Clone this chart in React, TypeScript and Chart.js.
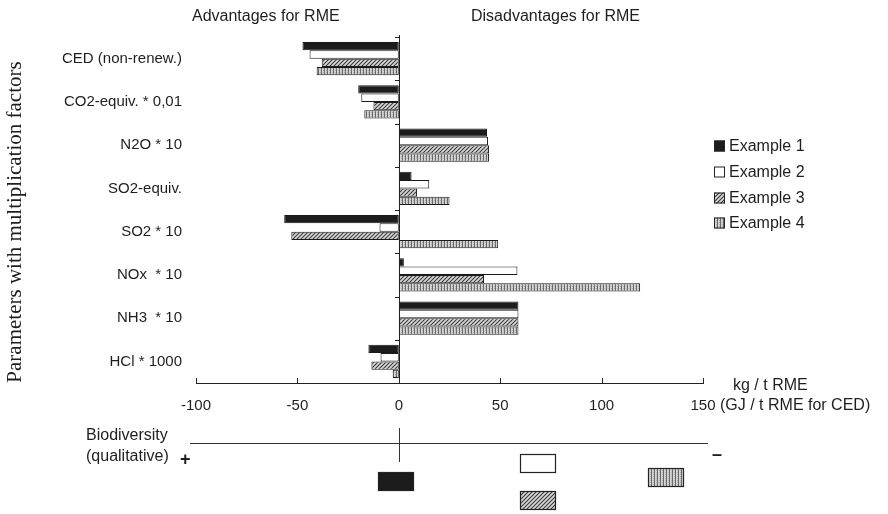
import React, { useEffect, useRef } from "react";
import { Chart, registerables } from "chart.js";

Chart.register(...registerables);

const categories = [
  "CED (non-renew.)",
  "CO2-equiv. * 0,01",
  "N2O * 10",
  "SO2-equiv.",
  "SO2 * 10",
  "NOx  * 10",
  "NH3  * 10",
  "HCl * 1000",
];
const seriesNames = ["Example 1", "Example 2", "Example 3", "Example 4"];
const example1 = [-47.5, -20, 43.5, 6.3, -56.5, 2.5, 59, -15];
const example2 = [-44, -18.5, 44, 15, -9.5, 58.5, 59, -9];
const example3 = [-38, -12.5, 44.5, 9, -53, 42, 59, -13.5];
const example4 = [-40.5, -17, 44.5, 25, 49, 119, 59, -3];
const xTickValues = [-100, -50, 0, 50, 100, 150];
// qualitative biodiversity position of each example on the same scale
const biodiversityPos = [-1.5, 68.5, 68.5, 132];

const SANS = "'Liberation Sans', Arial, sans-serif";
const SERIF = "'Liberation Serif', 'Times New Roman', serif";
const TXT = "#1e1e1e";

function makePattern(kind: string): CanvasPattern | string {
  const c = document.createElement("canvas");
  const g = c.getContext("2d");
  if (!g) return "#999";
  if (kind === "hatch") {
    c.width = 4;
    c.height = 4;
    g.fillStyle = "#d8d8d8";
    g.fillRect(0, 0, 4, 4);
    g.strokeStyle = "#3a3a3a";
    g.lineWidth = 1.1;
    g.beginPath();
    g.moveTo(-1, 5);
    g.lineTo(5, -1);
    g.moveTo(-1, 1);
    g.lineTo(1, -1);
    g.moveTo(3, 5);
    g.lineTo(5, 3);
    g.stroke();
  } else {
    c.width = 3;
    c.height = 2;
    g.fillStyle = "#d4d4d4";
    g.fillRect(0, 0, 3, 2);
    g.fillStyle = "#6a6a6a";
    g.fillRect(0, 0, 1, 2);
    g.fillStyle = "#b0b0b0";
    g.fillRect(2, 0, 1, 1);
  }
  return g.createPattern(c, "repeat") as CanvasPattern;
}

export default function App() {
  const ref = useRef<HTMLCanvasElement | null>(null);

  useEffect(() => {
    if (!ref.current) return;
    const fills: (string | CanvasPattern)[] = [
      "#1c1c1c",
      "#ffffff",
      makePattern("hatch"),
      makePattern("stripe"),
    ];
    const values = [example1, example2, example3, example4];

    const annotations = {
      id: "annotations",
      afterDatasetsDraw(chart: any) {
        const { ctx, chartArea } = chart;
        const x = chart.scales.x;
        const y = chart.scales.y;
        const x0 = x.getPixelForValue(0);
        ctx.save();
        ctx.strokeStyle = "#222";
        ctx.lineWidth = 1;
        // zero line with category ticks
        ctx.beginPath();
        ctx.moveTo(Math.round(x0) + 0.5, chartArea.top - 2);
        ctx.lineTo(Math.round(x0) + 0.5, chartArea.bottom);
        const n = categories.length;
        for (let i = 0; i <= n; i++) {
          const yy =
            i < n
              ? y.getPixelForValue(i) - (y.getPixelForValue(1) - y.getPixelForValue(0)) / 2
              : chartArea.bottom;
          ctx.moveTo(Math.round(x0) - 4, Math.round(yy) + 0.5);
          ctx.lineTo(Math.round(x0) + 1, Math.round(yy) + 0.5);
        }
        ctx.stroke();
        // upward x ticks
        ctx.beginPath();
        for (const v of xTickValues) {
          const px = Math.round(x.getPixelForValue(v)) + 0.5;
          ctx.moveTo(px, chartArea.bottom);
          ctx.lineTo(px, chartArea.bottom - 5);
        }
        ctx.stroke();
        ctx.restore();
      },
      afterDraw(chart: any) {
        const { ctx } = chart;
        const x = chart.scales.x;
        ctx.save();
        ctx.fillStyle = TXT;
        ctx.textBaseline = "middle";
        ctx.textAlign = "left";
        ctx.font = `16px ${SANS}`;
        ctx.fillText("Advantages for RME", 192, 17);
        ctx.fillText("Disadvantages for RME", 471, 17);
        ctx.fillText("kg / t RME", 733, 386);
        ctx.fillText("(GJ / t RME for CED)", 720, 406);

        // y title
        ctx.save();
        ctx.translate(15, 222);
        ctx.rotate(-Math.PI / 2);
        ctx.textAlign = "center";
        ctx.font = `21px ${SERIF}`;
        ctx.fillText("Parameters with multiplication factors", 0, 0);
        ctx.restore();

        // legend
        const rows = [146, 172, 198, 223];
        ctx.font = `16px ${SANS}`;
        seriesNames.forEach((name, i) => {
          ctx.fillStyle = fills[i] as any;
          ctx.fillRect(714, rows[i] - 5.5, 11, 11);
          ctx.strokeStyle = "#222";
          ctx.lineWidth = 1;
          ctx.strokeRect(714.5, rows[i] - 5, 10, 10);
          ctx.fillStyle = TXT;
          ctx.fillText(name, 729, rows[i] + 1);
        });

        // biodiversity section
        ctx.fillStyle = TXT;
        ctx.font = `16px ${SANS}`;
        ctx.fillText("Biodiversity", 86, 436);
        ctx.fillText("(qualitative)", 86, 457);
        ctx.font = `bold 18px ${SANS}`;
        ctx.fillText("+", 180, 460);
        ctx.fillText("\u2013", 712, 455);

        const xl = x.getPixelForValue(-100) - 6;
        const xr = x.getPixelForValue(150) + 5;
        const x0 = Math.round(x.getPixelForValue(0)) + 0.5;
        ctx.strokeStyle = "#333";
        ctx.lineWidth = 1;
        ctx.beginPath();
        ctx.moveTo(xl, 443.5);
        ctx.lineTo(xr, 443.5);
        ctx.moveTo(x0, 428);
        ctx.lineTo(x0, 462);
        ctx.stroke();

        const tops = [472, 454, 491, 468];
        biodiversityPos.forEach((v, i) => {
          const cx = x.getPixelForValue(v);
          const left = Math.round(cx - 18);
          ctx.fillStyle = fills[i] as any;
          ctx.fillRect(left, tops[i], 36, 19);
          ctx.strokeStyle = "#222";
          ctx.lineWidth = 1.2;
          ctx.strokeRect(left + 0.5, tops[i] + 0.5, 35, 18);
        });
        ctx.restore();
      },
    };

    const chart = new Chart(ref.current, {
      type: "bar",
      data: {
        labels: categories,
        datasets: seriesNames.map((name, i) => ({
          label: name,
          data: values[i],
          backgroundColor: fills[i] as any,
          borderColor: "#1a1a1a",
          borderWidth: 1,
          borderSkipped: false,
          categoryPercentage: 0.77,
          barPercentage: 1,
        })),
      },
      options: {
        indexAxis: "y",
        animation: false,
        responsive: false,
        maintainAspectRatio: false,
        layout: { padding: { top: 37, right: 185, bottom: 0, left: 0 } },
        plugins: {
          legend: { display: false },
          tooltip: { enabled: false },
        },
        scales: {
          x: {
            type: "linear",
            min: -100,
            max: 150,
            afterBuildTicks(scale: any) {
              scale.ticks = xTickValues.map((v) => ({ value: v }));
            },
            afterFit(scale: any) {
              scale.height = 131;
            },
            grid: { display: false, drawTicks: false },
            border: { display: true, color: "#222", width: 1 },
            ticks: {
              padding: 14,
              color: TXT,
              font: { family: SANS, size: 15 },
              maxRotation: 0,
            },
          },
          y: {
            type: "category",
            afterFit(scale: any) {
              scale.width = 196;
            },
            grid: { display: false, drawTicks: false },
            border: { display: false },
            ticks: {
              padding: 14,
              color: TXT,
              font: { family: SANS, size: 15 },
            },
          },
        },
      },
      plugins: [annotations],
    } as any);

    return () => chart.destroy();
  }, []);

  return (
    <div style={{ position: "fixed", left: 0, top: 0, width: 888, height: 514, background: "#fff" }}>
      <canvas ref={ref} width={888} height={514} style={{ width: 888, height: 514, display: "block" }} />
    </div>
  );
}
